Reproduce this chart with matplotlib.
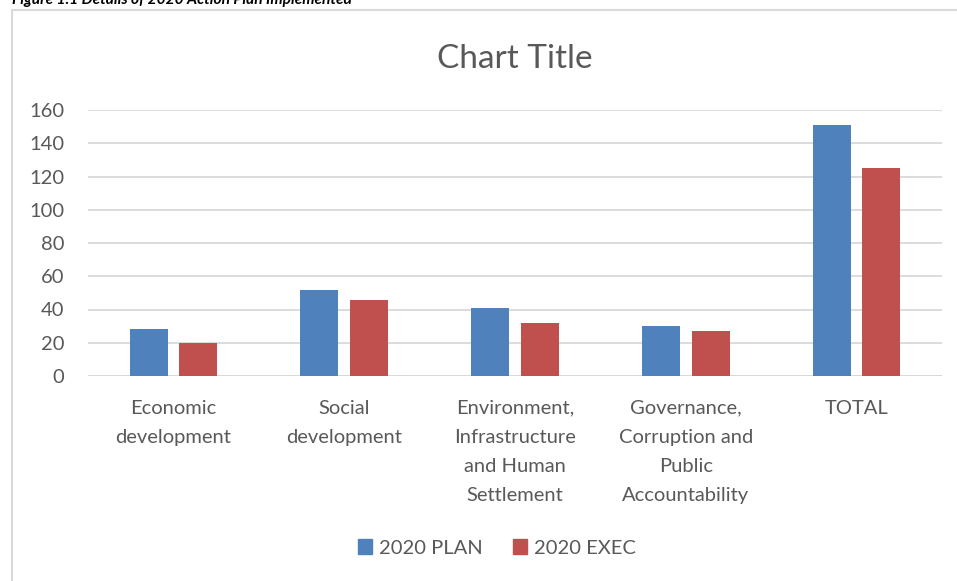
import numpy as np
import matplotlib.pyplot as plt
from matplotlib.patches import Rectangle, Patch

# ---------- Data ----------
categories = ["Economic\ndevelopment", "Social\ndevelopment",
              "Environment,\nInfrastructure\nand Human\nSettlement",
              "Governance,\nCorruption and\nPublic\nAccountability", "TOTAL"]
plan = [28, 52, 41, 30, 151]
execd = [20, 46, 32, 27, 125]
series_names = ["2020 PLAN", "2020 EXEC"]
yticks = [0, 20, 40, 60, 80, 100, 120, 140, 160]

blue = "#4F81BD"
red = "#C0504D"
txt = "#595959"
font = "Lato"

W, H = 957, 581
fig = plt.figure(figsize=(W / 100, H / 100), dpi=100)

# chart border
fig.patches.append(Rectangle((12 / W, -0.01), 1.0, 1 - 10 / H + 0.01, transform=fig.transFigure,
                             fill=False, edgecolor="#D9D9D9", linewidth=1.5))

# cropped caption at the top
fig.text(12 / W, 1 - 4 / H, "Figure 1.1 Details of 2020 Action Plan Implemented",
         fontsize=11.2, fontweight="bold", fontstyle="italic", family="Lato",
         color="black", va="baseline", ha="left")

ax = fig.add_axes([88 / W, 1 - 376 / H, (942 - 88) / W, (376 - 110) / H])

x = np.arange(len(categories))
w = 0.223
off = 0.145
ax.bar(x - off, plan, w, color=blue, label=series_names[0], zorder=3)
ax.bar(x + off, execd, w, color=red, label=series_names[1], zorder=3)

ax.set_xlim(-0.5, len(categories) - 0.5)
ax.set_ylim(0, 160)
ax.set_yticks(yticks)
ax.yaxis.grid(True, color="#D9D9D9", linewidth=1.3, zorder=0)
ax.axhline(0, color="#D9D9D9", linewidth=1.3, zorder=1)
for s in ax.spines.values():
    s.set_visible(False)
ax.tick_params(axis="both", length=0, labelsize=14.5, labelcolor=txt)
ax.tick_params(axis="y", pad=17)
ax.tick_params(axis="x", pad=17)
ax.set_xticks(x)
ax.set_xticklabels(categories, linespacing=1.86, va="top")
for lab in ax.get_xticklabels() + ax.get_yticklabels():
    lab.set_family(font)

ax.set_title("Chart Title", fontsize=24, color=txt, family=font, pad=30)

handles = [Patch(color=blue), Patch(color=red)]
fig.legend(handles, series_names, loc="center", bbox_to_anchor=(497 / W, 1 - 548 / H),
           ncol=2, frameon=False, handlelength=0.7, handleheight=0.7,
           handletextpad=0.35, columnspacing=1.5,
           prop={"family": font, "size": 14.5}, labelcolor=txt)

fig.savefig("out.png", dpi=100)
